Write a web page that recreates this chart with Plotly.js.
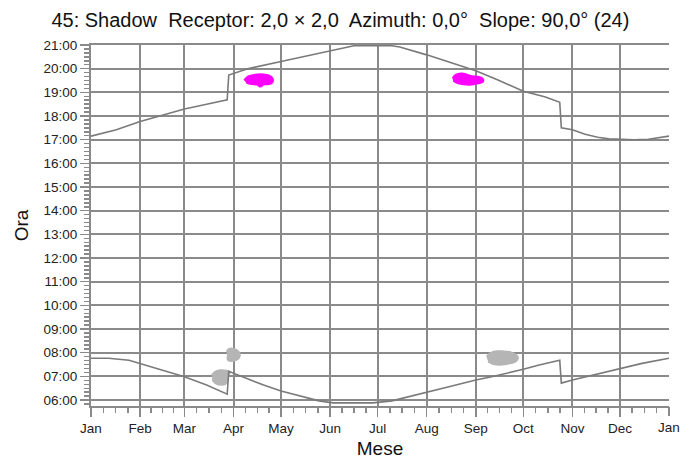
<!DOCTYPE html>
<html><head><meta charset="utf-8">
<script src="https://cdn.plot.ly/plotly-3.0.1.min.js"></script>
<style>html,body{margin:0;padding:0;background:#fff}</style>
</head><body><div id="chart" style="width:699px;height:459px"></div>
<script>
// Sunset line (top curve)
const sunsetDates = ['2015-01-01','2015-01-17','2015-02-01','2015-02-13','2015-03-01','2015-03-15','2015-03-28','2015-03-29','2015-04-01','2015-04-10','2015-05-01','2015-05-15','2015-06-01','2015-06-16','2015-07-10','2015-07-15','2015-08-01','2015-08-15','2015-09-01','2015-09-15','2015-10-01','2015-10-15','2015-10-24','2015-10-25','2015-11-01','2015-11-09','2015-11-17','2015-11-24','2015-12-10','2015-12-19','2016-01-01'];
const sunsetTimes = ['17:09','17:25','17:46','18:00','18:18','18:30','18:41','19:44','19:48','20:00','20:18','20:30','20:44','20:58','20:58','20:55','20:35','20:17','19:55','19:31','19:03','18:48','18:35','17:30','17:25','17:14','17:06','17:02','17:00','17:01','17:09'];
// Sunrise line (bottom curve)
const sunriseDates = ['2015-01-01','2015-01-12','2015-01-25','2015-02-01','2015-02-13','2015-03-01','2015-03-15','2015-03-28','2015-03-29','2015-04-01','2015-04-20','2015-05-01','2015-05-19','2015-05-25','2015-06-03','2015-06-28','2015-07-10','2015-08-01','2015-08-15','2015-09-01','2015-09-11','2015-10-01','2015-10-11','2015-10-24','2015-10-25','2015-11-01','2015-12-01','2015-12-15','2016-01-01'];
const sunriseTimes = ['07:46','07:46','07:41','07:33','07:18','06:59','06:38','06:15','07:13','07:08','06:38','06:23','06:03','05:58','05:53','05:53','05:58','06:21','06:34','06:51','06:59','07:18','07:29','07:41','06:43','06:51','07:20','07:33','07:46'];
// Shadow areas (outlines): magenta (evening) and grey (morning)
const eveningAprDates = ['2015-04-07 14:00','2015-04-10 07:00','2015-04-14 12:00','2015-04-19 19:00','2015-04-23 14:00','2015-04-25 17:00','2015-04-25 12:00','2015-04-22 22:00','2015-04-19 19:00','2015-04-18 19:00','2015-04-17 07:00','2015-04-16 00:00','2015-04-11 10:00','2015-04-08 22:00'];
const eveningAprTimes = ['19:31','19:41','19:45','19:46','19:43','19:36','19:24','19:20','19:19','19:15','19:15','19:19','19:21','19:25'];
const eveningAugDates = ['2015-08-17 07:00','2015-08-18 19:00','2015-08-21 12:00','2015-08-24 12:00','2015-08-27 05:00','2015-08-30 10:00','2015-09-02 12:00','2015-09-05 07:00','2015-09-05 17:00','2015-09-03 14:00','2015-08-31 10:00','2015-08-29 07:00','2015-08-26 05:00','2015-08-22 10:00','2015-08-19 10:00','2015-08-17 17:00'];
const eveningAugTimes = ['19:36','19:44','19:48','19:48','19:44','19:41','19:40','19:36','19:27','19:23','19:21','19:19','19:19','19:21','19:25','19:29'];
const morningMarHighDates = ['2015-03-27 14:00','2015-03-28 17:00','2015-03-31 05:00','2015-04-03 00:00','2015-04-05 02:00','2015-04-04 10:00','2015-04-01 22:00','2015-03-28 17:00','2015-03-27 22:00'];
const morningMarHighTimes = ['08:03','08:09','08:11','08:07','07:58','07:46','07:40','07:40','07:50'];
const morningMarLowDates = ['2015-03-18 05:00','2015-03-20 07:00','2015-03-23 10:00','2015-03-27 14:00','2015-03-29 19:00','2015-03-28 17:00','2015-03-27 14:00','2015-03-24 12:00','2015-03-20 17:00','2015-03-18 14:00'];
const morningMarLowTimes = ['07:03','07:12','07:16','07:15','07:12','06:59','06:42','06:38','06:42','06:51'];
const morningSepDates = ['2015-09-07 19:00','2015-09-09 12:00','2015-09-13 00:00','2015-09-18 07:00','2015-09-23 14:00','2015-09-26 17:00','2015-09-27 19:00','2015-09-25 17:00','2015-09-20 10:00','2015-09-16 05:00','2015-09-12 00:00','2015-09-08 19:00'];
const morningSepTimes = ['07:50','07:58','08:04','08:04','08:01','07:54','07:46','07:36','07:31','07:29','07:31','07:37'];
// Month tick labels
const monthTicks = ['2015-01-01','2015-02-01','2015-03-01','2015-04-01','2015-05-01','2015-06-01','2015-07-01','2015-08-01','2015-09-01','2015-10-01','2015-11-01','2015-12-01'];
const endTick = ['2016-01-01'];

const T = arr => arr.map(t => '1970-01-01 ' + t + ':00');
const GRID = '#8a8a8a';

function blob(dates, times, color) {
  return {x: dates, y: T(times), type: 'scatter', mode: 'lines', fill: 'toself',
    fillcolor: color, line: {color: color, width: 1.5, shape: 'spline', smoothing: 1},
    hoverinfo: 'skip', showlegend: false};
}

const traces = [
  blob(morningMarHighDates, morningMarHighTimes, '#b5b5b5'),
  blob(morningMarLowDates, morningMarLowTimes, '#b5b5b5'),
  blob(morningSepDates, morningSepTimes, '#b5b5b5'),
  blob(eveningAprDates, eveningAprTimes, '#ff00ff'),
  blob(eveningAugDates, eveningAugTimes, '#ff00ff'),
  {x: sunsetDates, y: T(sunsetTimes), type: 'scatter', mode: 'lines',
   line: {color: '#7a7a7a', width: 1.6}, hoverinfo: 'skip', showlegend: false},
  {x: sunriseDates, y: T(sunriseTimes), type: 'scatter', mode: 'lines', xaxis: 'x2', yaxis: 'y',
   line: {color: '#7a7a7a', width: 1.6}, hoverinfo: 'skip', showlegend: false}
];

// quarter-month minor tick positions on the month axis
const minorX = [];
for (let m = 0; m < 12; m++) {
  const a = Date.UTC(2015, m, 1), b = Date.UTC(2015, m + 1, 1);
  for (let k = 1; k < 4; k++) minorX.push(a + (b - a) * k / 4);
}

const font = {family: 'Liberation Sans, Arial, sans-serif', color: '#222'};
const xRange = ['2015-01-01', '2016-01-01'];
const layout = {
  width: 699, height: 459,
  margin: {l: 91, r: 30, t: 45, b: 53},
  paper_bgcolor: '#fff', plot_bgcolor: '#fff',
  font: font,
  title: {text: '45: Shadow&nbsp; Receptor: 2,0 × 2,0&nbsp; Azimuth: 0,0°&nbsp; Slope: 90,0° (24)',
          font: {size: 20, color: '#111', family: font.family}, x: 0.487, xanchor: 'center', y: 0.957, yanchor: 'middle'},
  xaxis: {
    type: 'date', range: xRange,
    tickmode: 'array', tickvals: monthTicks, tickformat: '%b',
    showgrid: true, gridcolor: GRID, gridwidth: 2,
    showline: true, linecolor: GRID, linewidth: 2, mirror: true,
    ticks: 'outside', ticklen: 9, tickwidth: 1.5, tickcolor: GRID,
    tickfont: {size: 13.5, color: '#222'},
    minor: {tickmode: 'array', tickvals: minorX, ticks: 'outside', ticklen: 5, tickwidth: 1.5, tickcolor: GRID, showgrid: false},
    title: {text: 'Mese', font: {size: 19, color: '#111'}, standoff: 6},
    zeroline: false, fixedrange: true
  },
  xaxis2: {
    type: 'date', range: xRange, overlaying: 'x', anchor: 'y', side: 'bottom',
    tickmode: 'array', tickvals: endTick, tickformat: '%b',
    showgrid: false, showline: false, zeroline: false,
    ticks: 'outside', ticklen: 9, tickwidth: 1.5, tickcolor: GRID,
    tickfont: {size: 13.5, color: '#222'}, fixedrange: true
  },
  yaxis: {
    type: 'date', range: ['1970-01-01 05:45:00', '1970-01-01 21:00:00'],
    tickmode: 'linear', tick0: '1970-01-01 00:00:00', dtick: 3600000, tickformat: '%H:%M',
    showgrid: true, gridcolor: GRID, gridwidth: 2,
    showline: true, linecolor: GRID, linewidth: 2,
    ticks: 'outside', ticklen: 9, tickwidth: 1.5, tickcolor: GRID,
    tickfont: {size: 13.5, color: '#222'},
    minor: {dtick: 600000, tick0: '1970-01-01 00:00:00', ticks: 'outside', ticklen: 5, tickwidth: 1.5, tickcolor: GRID, showgrid: false},
    title: {text: 'Ora', font: {size: 19, color: '#111'}, standoff: 10},
    zeroline: false, fixedrange: true
  }
};

Plotly.newPlot('chart', traces, layout, {staticPlot: true, displayModeBar: false});
</script>
</body></html>
